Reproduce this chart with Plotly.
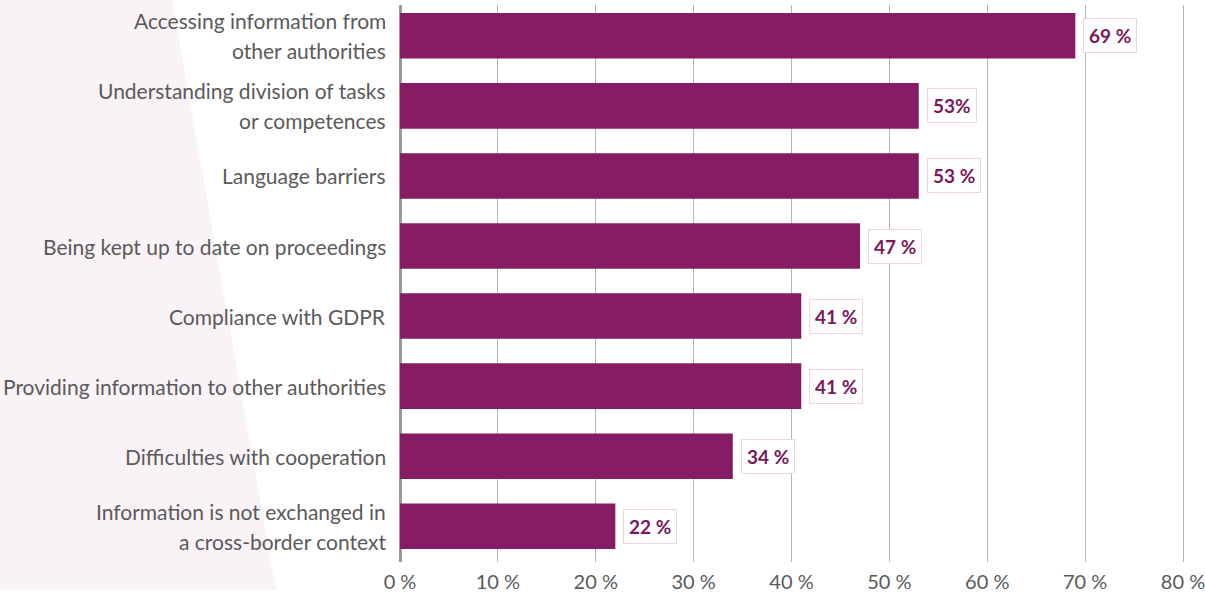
import plotly.graph_objects as go

categories = [
    "Accessing information from<br>other authorities",
    "Understanding division of tasks<br>or competences",
    "Language barriers",
    "Being kept up to date on proceedings",
    "Compliance with GDPR",
    "Providing information to other authorities",
    "Difficulties with cooperation",
    "Information is not exchanged in<br>a cross-border context",
]
values = [69, 53, 53, 47, 41, 41, 34, 22]
value_labels = ["69 %", "53%", "53 %", "47 %", "41 %", "41 %", "34 %", "22 %"]
tick_values = [0, 10, 20, 30, 40, 50, 60, 70, 80]
tick_labels = ["0 %", "10 %", "20 %", "30 %", "40 %", "50 %", "60 %", "70 %", "80 %"]

BAR = "#861c64"
TEXT = "#5a5a5a"
FONT = "Lato"

W, H = 1205, 593
L, R, T, B = 400, 0, 5, 28

fig = go.Figure(
    go.Bar(
        x=values,
        y=categories,
        orientation="h",
        marker=dict(color=BAR, line=dict(width=0)),
        width=0.65,
        hoverinfo="skip",
    )
)

# value boxes at the end of each bar
for cat, v, lab in zip(categories, values, value_labels):
    fig.add_annotation(
        x=v, y=cat, xref="x", yref="y",
        text=f"<b>{lab}</b>",
        showarrow=False, xanchor="left", xshift=8,
        font=dict(family=FONT, size=19, color="#7a1a5c"),
        bgcolor="white", bordercolor="#ecd6e5", borderwidth=1, borderpad=5,
    )

# category labels, drawn line by line for a looser line spacing
LINE_GAP = 30
for cat in categories:
    lines = cat.split("<br>")
    n = len(lines)
    for i, line in enumerate(lines):
        fig.add_annotation(
            x=0, y=cat, xref="paper", yref="y",
            text=line, showarrow=False,
            xanchor="right", yanchor="middle", xshift=-12,
            yshift=((n - 1) / 2 - i) * LINE_GAP,
            font=dict(family=FONT, size=21, color=TEXT),
        )

# light diagonal panel behind the category labels (pixel -> paper coordinates)
pw, ph = W - L - R, H - T - B
def px(xp):
    return (xp - L) / pw
def py(yp):
    return (H - B - yp) / ph
poly = [(0, 0), (172, 0), (276, H), (0, H)]
path = "M " + " L ".join(f"{px(a):.4f},{py(b):.4f}" for a, b in poly) + " Z"
fig.add_shape(type="path", path=path, xref="paper", yref="paper",
              fillcolor="#f9f2f7", line=dict(width=0), layer="below")

fig.update_layout(
    width=W, height=H,
    margin=dict(l=L, r=R, t=T, b=B),
    paper_bgcolor="white", plot_bgcolor="rgba(0,0,0,0)",
    showlegend=False,
    font=dict(family=FONT, color=TEXT),
)
fig.update_xaxes(
    range=[0, 80 * pw / 783],
    tickvals=tick_values, ticktext=tick_labels,
    showgrid=True, gridcolor="#b5b5b5", gridwidth=1,
    zeroline=True, zerolinecolor="#9a9a9a", zerolinewidth=3,
    showline=False, ticks="", ticklabelstandoff=6,
    ticklabeloverflow="allow",
    tickfont=dict(family=FONT, size=20, color=TEXT),
    fixedrange=True,
)
fig.update_yaxes(
    type="category",
    range=[7.51, -0.44],
    showgrid=False, zeroline=False, showline=False, ticks="",
    showticklabels=False,
    fixedrange=True,
)

fig.write_html("out.html", config=dict(displayModeBar=False))
